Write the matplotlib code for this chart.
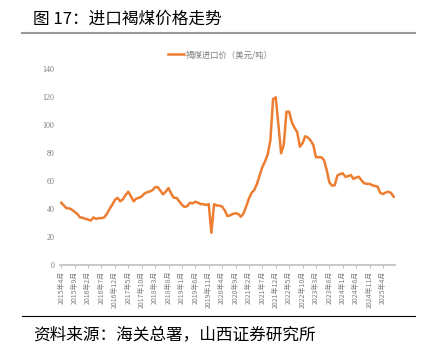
import matplotlib
matplotlib.use("Agg")
import matplotlib.pyplot as plt
from matplotlib.lines import Line2D

# monthly price, 2015-04 .. 2025-08 (USD/t)
start_year, start_month = 2015, 4
prices = [
    44.5, 42.5, 40.5, 40.5, 39.5, 38.0, 36.5, 34.0, 33.8, 33.0,
    32.5, 31.8, 34.0, 33.0, 33.5, 33.5, 34.0, 36.5, 40.0, 43.0,
    46.5, 48.0, 45.5, 47.0, 50.0, 52.4, 49.0, 45.5, 47.5, 48.0,
    49.0, 51.0, 52.0, 52.5, 53.5, 55.5, 55.7, 53.0, 50.5, 52.5,
    55.0, 51.0, 48.0, 48.0, 45.5, 43.0, 41.5, 42.0, 44.5, 44.0,
    45.2, 44.5, 43.5, 43.5, 42.9, 43.5, 23.0, 43.4, 42.5, 42.5,
    41.7, 39.0, 35.0, 35.5, 36.5, 37.0, 36.5, 34.5, 37.0, 42.0,
    47.5, 51.6, 53.6, 58.0, 64.0, 70.0, 74.0, 79.0, 89.0, 118.5,
    119.8, 100.0, 79.8, 86.0, 109.5, 109.5, 102.0, 98.0, 95.0, 84.5,
    87.0, 92.0, 91.0, 89.0, 85.7, 77.0, 77.0, 77.0, 75.0, 68.0,
    59.0, 56.7, 57.0, 64.0, 65.0, 65.5, 63.0, 63.5, 64.3, 61.5,
    62.5, 63.0, 60.5, 58.4, 58.0, 58.0, 57.0, 56.5, 56.0, 51.5,
    50.7, 51.8, 52.4, 51.5, 48.8,
]
months = list(range(len(prices)))
tick_pos = list(range(0, len(prices), 5))
tick_labels = []
for m in tick_pos:
    y = start_year + (start_month - 1 + m) // 12
    mo = (start_month - 1 + m) % 12 + 1
    tick_labels.append(f"{y}年{mo}月")
y_ticks = [0, 20, 40, 60, 80, 100, 120, 140]

cjk = ['Noto Sans CJK SC', 'DejaVu Sans']
orange = '#ED7D31'
gray_txt = '#7f7f7f'

fig = plt.figure(figsize=(4.28, 3.52), dpi=100)
ax = fig.add_axes([0.140, 0.247, 0.783, 0.557])

ax.plot(months, prices, color=orange, lw=1.8, solid_joinstyle='round')

ax.set_xlim(-0.5, len(prices) - 0.5)
ax.set_ylim(0, 140)
ax.set_yticks(y_ticks)
ax.set_yticklabels([str(v) for v in y_ticks], family='Liberation Serif', fontsize=5.8, color=gray_txt)
ax.set_xticks(tick_pos)
ax.set_xticklabels(tick_labels, rotation=90, family='Noto Sans CJK SC', fontsize=5.0, color=gray_txt)

for s in ['top', 'right', 'left']:
    ax.spines[s].set_visible(False)
ax.spines['bottom'].set_color('#bfbfbf')
ax.spines['bottom'].set_linewidth(1.2)
ax.tick_params(axis='y', length=0, pad=4)
ax.tick_params(axis='x', length=2.5, width=0.7, color='#bfbfbf', pad=1.5)

# legend at top
handle = Line2D([0], [0], color=orange, lw=1.8)
leg = fig.legend([handle], ['褐煤进口价（美元/吨）'], loc='center', bbox_to_anchor=(0.515, 0.845),
                 frameon=False, prop={'family': cjk, 'size': 6}, handlelength=2.0, handletextpad=0.2)
for t in leg.get_texts():
    t.set_color(gray_txt)

# title, rules and source
fig.text(33 / 428, 1 - 19 / 352, '图 17：进口褐煤价格走势', family=cjk, fontsize=12,
         va='center', ha='left', color='black')
fig.add_artist(Line2D([22 / 428, 415 / 428], [1 - 33 / 352] * 2, color='#999999', lw=1.5))
fig.add_artist(Line2D([22 / 428, 415 / 428], [1 - 316 / 352] * 2, color='black', lw=0.8))
fig.text(33 / 428, 1 - 336 / 352, '资料来源：海关总署，山西证券研究所', family=cjk, fontsize=12,
         va='center', ha='left', color='black')

fig.savefig('out.png', dpi=100)
